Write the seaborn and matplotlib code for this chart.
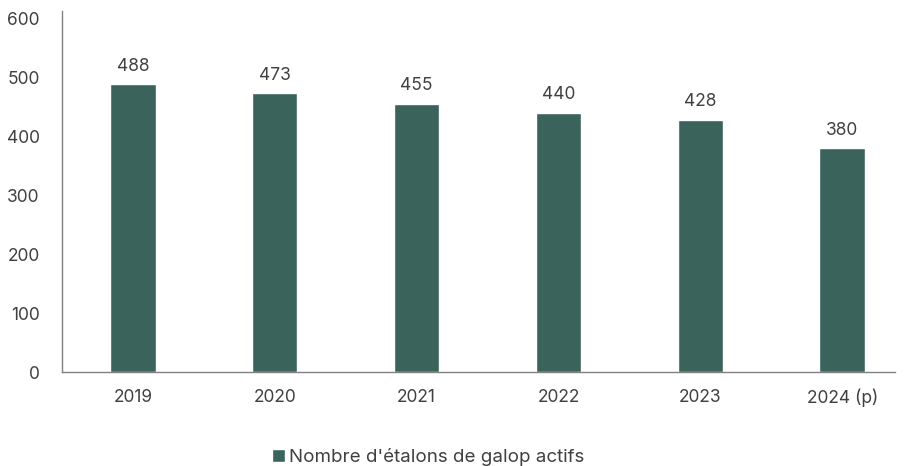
import matplotlib
matplotlib.use("Agg")
import matplotlib.pyplot as plt
import pandas as pd
import seaborn as sns

years = ["2019", "2020", "2021", "2022", "2023", "2024 (p)"]
etalons = [488, 473, 455, 440, 428, 380]
series_name = "Nombre d'étalons de galop actifs"

BAR_COLOR = "#3a635c"
TEXT_COLOR = "#404040"

sns.set_style("white")
plt.rcParams["font.family"] = ["Inter", "DejaVu Sans"]

df = pd.DataFrame({"annee": years, "valeur": etalons})

fig = plt.figure(figsize=(9.12, 4.66), dpi=100)
ax = fig.add_axes([0.068, 0.2017, 0.913, 0.7743])

sns.barplot(data=df, x="annee", y="valeur", color=BAR_COLOR, width=0.32,
            saturation=1, ax=ax, label=series_name)

for i, v in enumerate(etalons):
    ax.text(i, v + 16, str(v), ha="center", va="bottom", fontsize=12.5,
            color=TEXT_COLOR)

ax.set_ylim(0, 612)
ax.set_xlim(-0.5, 5.37)
ax.set_yticks(range(0, 601, 100))
ax.set_xlabel("")
ax.set_ylabel("")
ax.tick_params(axis="both", length=0, labelsize=12.5, colors=TEXT_COLOR)
ax.tick_params(axis="x", pad=12)
ax.tick_params(axis="y", pad=16)
for s in ["top", "right"]:
    ax.spines[s].set_visible(False)
for s in ["left", "bottom"]:
    ax.spines[s].set_color("#808080")
    ax.spines[s].set_linewidth(1.0)

ax.legend(loc="center", bbox_to_anchor=(0.44, -0.235), frameon=False,
          handlelength=0.7, handleheight=0.7, handletextpad=0.2,
          fontsize=13.5, labelcolor=TEXT_COLOR)

fig.savefig("out.png", dpi=100)
